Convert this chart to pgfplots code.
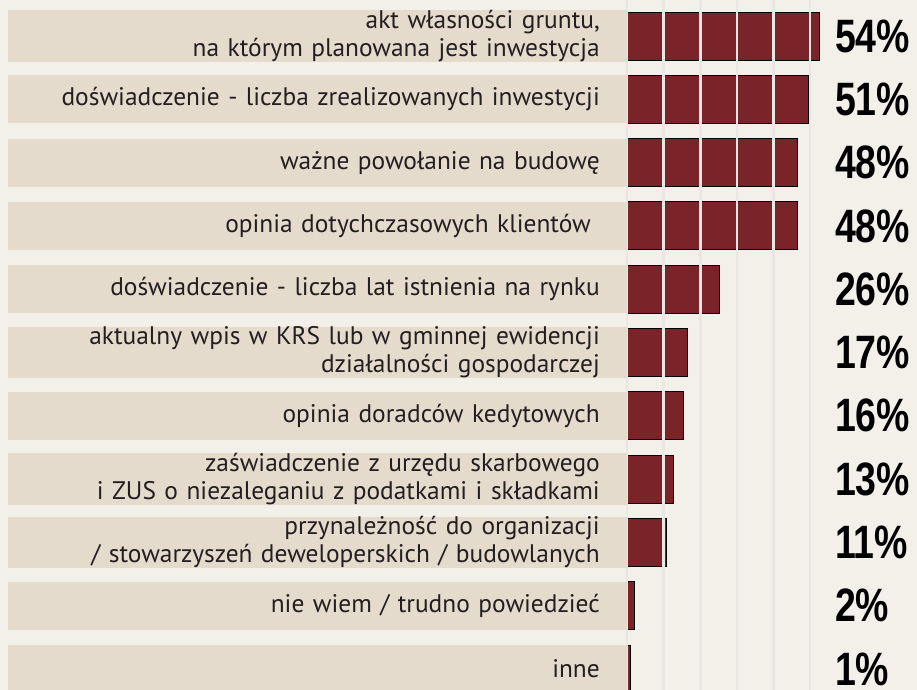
\documentclass[border=0pt]{standalone}
\usepackage{pgfplots}
\pgfplotsset{compat=1.18}
\usepackage{pgfplotstable}
\usepackage{fontspec}
\setmainfont{PT Sans}
\newfontfamily\pctfont[FakeStretch=0.8]{Liberation Sans}
\definecolor{bgc}{RGB}{243,240,234}
\definecolor{boxc}{RGB}{229,219,205}
\definecolor{barc}{RGB}{122,36,41}
\definecolor{gridc}{RGB}{233,231,228}
\definecolor{txtc}{RGB}{35,31,32}

\pgfplotstableread{
row val
0 54
1 51
2 48
3 48
4 26
5 17
6 16
7 13
8 11
9 2
10 1
}\data

\begin{document}
\begin{tikzpicture}
\clip (0,0) rectangle (917bp,690bp);
\fill[bgc] (0,0) rectangle (917bp,690bp);
\begin{axis}[
  at={(627bp,0bp)}, anchor=south west,
  scale only axis, width=287.96bp, height=690bp,
  xmin=0, xmax=81, ymin=-0.5687, ymax=10.332,
  y dir=reverse, enlargelimits=false, clip=false,
  axis on top,
  axis line style={draw=none}, tick style={draw=none},
  major tick length=0pt,
  xtick={0,10.3,20.6,30.9,41.2,51.5}, xticklabels={},
  xmajorgrids, grid style={gridc, line width=2.6bp},
  ytick={0,...,10},
  yticklabels={
    {akt własności gruntu,\\ na którym planowana jest inwestycja},
    {doświadczenie - liczba zrealizowanych inwestycji},
    {ważne powołanie na budowę},
    {opinia dotychczasowych klientów\hspace*{9bp}},
    {doświadczenie - liczba lat istnienia na rynku},
    {aktualny wpis w KRS lub w gminnej ewidencji\hspace*{6bp}\\ działalności gospodarczej},
    {opinia doradców kedytowych},
    {zaświadczenie z urzędu skarbowego\hspace*{5bp}\\ i ZUS o niezaleganiu z podatkami i składkami},
    {przynależność do organizacji\hspace*{5bp}\\ / stowarzyszeń deweloperskich / budowlanych},
    {nie wiem / trudno powiedzieć},
    {inne}},
  yticklabel style={anchor=east, fill=boxc, text=txtc,
    text width=565bp, inner xsep=27bp, inner ysep=0pt,
    minimum height=48bp, align=right,
    font=\fontsize{25.5}{28}\selectfont},
]
\addplot[xbar, bar width=0.758, fill=barc, draw=black, line width=0.9bp]
  table[x=val, y=row] {\data};
\addplot[draw=none, mark=none, nodes near coords, point meta=explicit symbolic,
  nodes near coords style={anchor=west, text=black, inner sep=0pt,
    font=\pctfont\bfseries\fontsize{47}{47}\selectfont},
  nodes near coords={\pgfplotspointmeta\%}]
  table[x expr=58.5, y=row, meta=val] {\data};
\end{axis}
\end{tikzpicture}
\end{document}
